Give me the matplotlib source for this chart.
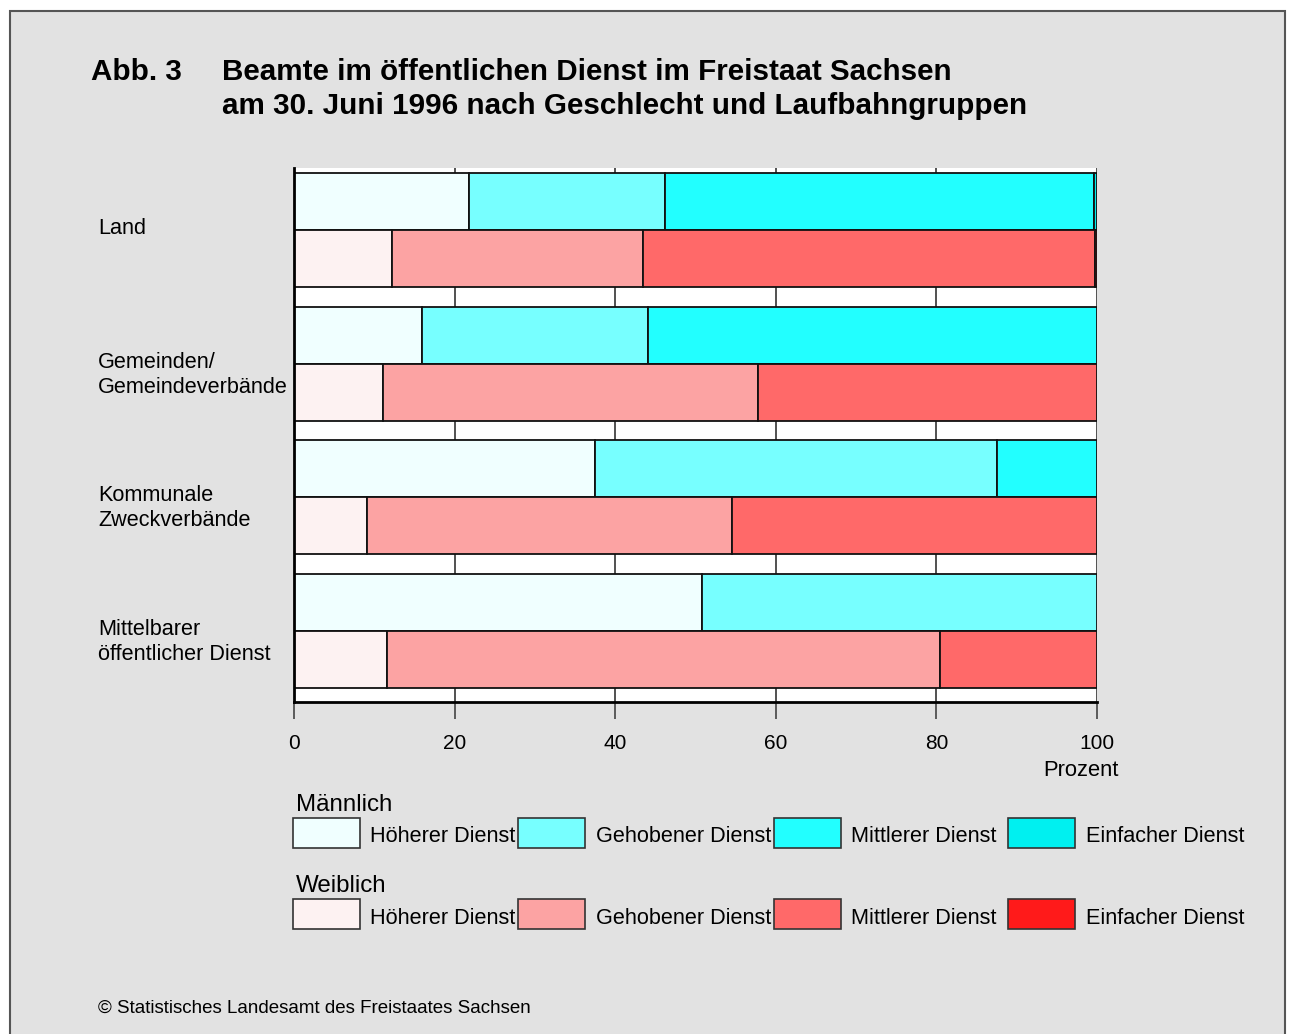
import matplotlib
matplotlib.use("Agg")
import matplotlib.pyplot as plt
from matplotlib.patches import Rectangle
from matplotlib.transforms import blended_transform_factory

plt.rcParams['font.family'] = ['Liberation Sans', 'DejaVu Sans']

# Anteile in Prozent je Laufbahngruppe
groups = ["Land", "Gemeinden/\nGemeindeverbände", "Kommunale\nZweckverbände",
          "Mittelbarer\nöffentlicher Dienst"]
segments = ["Höherer Dienst", "Gehobener Dienst", "Mittlerer Dienst", "Einfacher Dienst"]
male = [
    [21.8, 24.4, 53.4, 0.4],
    [15.9, 28.2, 55.9, 0.0],
    [37.5, 50.0, 12.5, 0.0],
    [50.8, 49.2, 0.0, 0.0],
]
female = [
    [12.2, 31.3, 56.2, 0.3],
    [11.1, 46.7, 42.2, 0.0],
    [9.1, 45.4, 45.5, 0.0],
    [11.6, 68.8, 19.6, 0.0],
]
xticks = [0, 20, 40, 60, 80, 100]

male_colors = ["#f0ffff", "#77ffff", "#22ffff", "#00f0f0"]
female_colors = ["#fdf2f2", "#fca3a3", "#ff6969", "#ff1a1a"]

W, H = 1289, 1034
fig = plt.figure(figsize=(W / 100, H / 100), dpi=100)
fig.patch.set_facecolor("white")


def fx(x):
    return x / W


def fy(y):
    return 1 - y / H


# grey frame
fig.add_artist(Rectangle((fx(10), fy(1040)), fx(1285) - fx(10), fy(11) - fy(1040),
                         transform=fig.transFigure, facecolor="#e2e2e2",
                         edgecolor="#555555", lw=1.5, zorder=0))

fig.text(fx(91), fy(80), "Abb. 3", fontsize=21.3, fontweight="bold", va="baseline")
fig.text(fx(222), fy(80), "Beamte im öffentlichen Dienst im Freistaat Sachsen",
         fontsize=21.3, fontweight="bold", va="baseline")
fig.text(fx(222), fy(114), "am 30. Juni 1996 nach Geschlecht und Laufbahngruppen",
         fontsize=21.3, fontweight="bold", va="baseline")

ax = fig.add_axes([fx(294), fy(702), fx(1097) - fx(294), fy(168) - fy(702)])
ax.set_facecolor("white")

bar_h = 57
pitch = 133.7
top0 = 5
for i in range(len(groups)):
    y_m = top0 + pitch * i
    y_f = y_m + bar_h
    left = 0
    for j, v in enumerate(male[i]):
        if v > 0:
            ax.barh(y_m, v, left=left, height=bar_h, align="edge",
                    color=male_colors[j], edgecolor="#111111", lw=1.3, zorder=3)
        left += v
    left = 0
    for j, v in enumerate(female[i]):
        if v > 0:
            ax.barh(y_f, v, left=left, height=bar_h, align="edge",
                    color=female_colors[j], edgecolor="#111111", lw=1.3, zorder=3)
        left += v

ax.set_xlim(0, 100)
ax.set_ylim(534, 0)
ax.set_xticks(xticks)
ax.set_xticklabels([str(t) for t in xticks], fontsize=15)
ax.set_yticks([])
ax.tick_params(axis="x", length=12, width=1.2, color="#444444", pad=11)
ax.xaxis.grid(True, color="#333333", lw=1.2, zorder=1)
ax.set_axisbelow(True)
for s in ["top", "right"]:
    ax.spines[s].set_visible(False)
for s in ["left", "bottom"]:
    ax.spines[s].set_linewidth(2)
    ax.spines[s].set_color("black")
    ax.spines[s].set_zorder(5)

# group labels to the left of the bars
tr = blended_transform_factory(fig.transFigure, ax.transData)
for i, g in enumerate(groups):
    n = g.count("\n")
    yb = top0 + pitch * i + bar_h
    ax.text(fx(98), yb - 2 + n * 13, g, transform=tr, fontsize=15.6,
            va="center", ha="left", linespacing=1.25)

fig.text(fx(1081), fy(770), "Prozent", fontsize=15.8, ha="center", va="center")

# legend rows
legend_x = [293, 518, 774, 1008]
label_x = [370, 596, 851, 1086]
rows = [("Männlich", 803, 818, male_colors), ("Weiblich", 884, 899, female_colors)]
for title, ty, py, cols in rows:
    fig.text(fx(296), fy(ty + 2), title, fontsize=17.4, va="center")
    for k in range(len(segments)):
        fig.add_artist(Rectangle((fx(legend_x[k]), fy(py + 30)), fx(67), 30 / H,
                                 transform=fig.transFigure, facecolor=cols[k],
                                 edgecolor="#333333", lw=1.2))
        fig.text(fx(label_x[k]), fy(py + 19), segments[k], fontsize=15.6, va="center")

fig.text(fx(98), fy(1008), "© Statistisches Landesamt des Freistaates Sachsen",
         fontsize=13.5, va="center")

fig.savefig("out.png", dpi=100, facecolor=fig.get_facecolor())
